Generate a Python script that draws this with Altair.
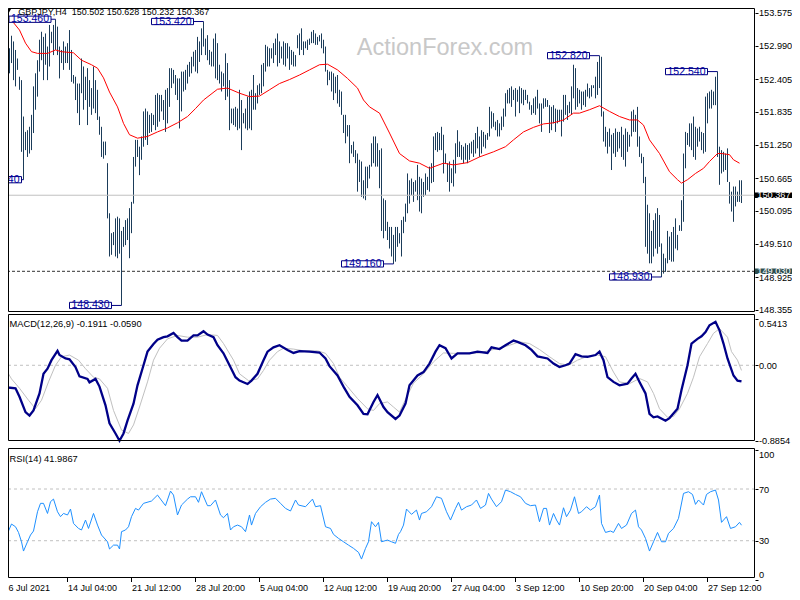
import json
import altair as alt
import pandas as pd

# ---------------- values ----------------
symbol_title = "GBPJPY,H4\u00a0 150.502 150.628 150.232 150.367"
macd_title = "MACD(12,26,9) -0.1911 -0.0590"
rsi_title = "RSI(14) 41.9867"
watermark_text = "ActionForex.com"

bar_high = [
    152.71, 152.72, 152.72, 152.95, 153.17, 153.07, 152.92, 152.77, 152.45, 152.39,
    151.75, 151.48, 151.51, 151.57, 151.78, 152.28, 152.51, 152.74, 153.10, 153.24,
    153.15, 153.21, 152.98, 153.36, 153.24, 153.36, 153.46, 153.33, 152.98, 152.92,
    153.07, 152.98, 153.04, 153.27, 152.92, 152.48, 152.45, 152.33, 152.33, 152.77,
    152.63, 152.45, 152.60, 152.39, 152.25, 152.63, 152.39, 152.22, 151.75, 151.57,
    151.31, 151.31, 150.93, 150.05, 149.70, 149.72, 149.96, 149.99, 149.96, 149.74,
    149.81, 149.93, 149.96, 150.14, 150.25, 151.04, 151.34, 151.34, 151.22, 151.40,
    151.84, 151.89, 151.84, 151.78, 151.81, 151.78, 152.13, 152.16, 152.13, 152.13,
    152.04, 152.22, 152.25, 152.60, 152.60, 152.57, 152.48, 152.42, 152.42, 152.54,
    152.54, 152.57, 152.66, 152.71, 152.80, 152.89, 152.92, 153.15, 153.07, 153.30,
    153.42, 153.12, 153.18, 152.92, 152.89, 153.12, 153.21, 153.04, 152.66, 152.54,
    152.51, 152.86, 152.69, 152.39, 151.89, 151.89, 151.92, 151.89, 152.22, 152.04,
    151.81, 151.89, 152.10, 152.19, 152.22, 152.48, 152.16, 152.30, 152.33, 152.66,
    152.69, 153.01, 152.98, 152.95, 152.95, 153.04, 153.12, 153.21, 153.07, 152.98,
    153.07, 153.04, 153.04, 152.98, 152.92, 152.89, 152.83, 153.18, 153.21, 153.30,
    153.07, 153.07, 153.10, 153.12, 153.24, 153.27, 153.21, 153.15, 153.18, 153.21,
    153.10, 152.98, 152.57, 152.54, 152.54, 152.51, 152.45, 152.48, 152.22, 152.19,
    151.78, 151.78, 151.60, 151.60, 151.25, 151.31, 151.16, 151.10, 150.99, 150.96,
    150.63, 150.87, 150.87, 150.90, 151.28, 151.40, 151.40, 151.28, 151.16, 151.19,
    150.31, 150.28, 149.90, 149.81, 149.81, 149.67, 149.81, 149.81, 149.70, 149.93,
    149.99, 150.22, 150.75, 150.63, 150.66, 150.60, 150.63, 150.90, 150.69, 150.66,
    150.60, 150.75, 150.69, 150.87, 150.93, 151.40, 151.46, 151.48, 151.46, 151.57,
    151.43, 151.10, 150.93, 150.96, 150.84, 150.99, 151.28, 151.51, 151.31, 151.25,
    151.22, 151.28, 151.25, 151.28, 151.31, 151.34, 151.46, 151.57, 151.40, 151.51,
    151.48, 151.43, 151.46, 151.92, 151.84, 151.81, 151.66, 151.69, 151.63, 151.75,
    151.89, 152.16, 152.22, 152.25, 152.28, 152.22, 152.25, 152.22, 152.28, 152.25,
    152.22, 152.22, 152.13, 152.01, 151.95, 152.07, 152.10, 152.22, 151.98, 151.98,
    152.07, 152.07, 152.04, 151.95, 151.92, 151.95, 151.89, 151.87, 151.87, 151.87,
    152.13, 152.13, 151.95, 152.01, 152.28, 152.66, 152.60, 152.25, 152.22, 152.19,
    152.19, 152.22, 152.33, 152.25, 152.30, 152.30, 152.45, 152.71, 152.82, 152.80,
    151.84, 151.57, 151.48, 151.54, 151.43, 151.46, 151.54, 151.48, 151.48, 151.57,
    151.43, 151.54, 151.48, 151.43, 151.84, 151.87, 151.78, 151.92, 151.40, 151.10,
    151.04, 150.69, 150.20, 150.05, 149.74, 149.93, 150.05, 150.14, 150.02, 149.52,
    149.34, 149.26, 149.74, 149.64, 149.72, 149.81, 149.96, 149.67, 149.84, 150.28,
    151.10, 151.48, 151.46, 151.63, 151.63, 151.75, 151.57, 151.54, 151.57, 151.48,
    151.46, 152.10, 152.16, 152.19, 152.22, 152.19, 152.45, 152.54, 151.22, 151.16,
    151.13, 151.10, 151.19, 150.60, 150.43, 150.52, 150.52, 150.43, 150.63, 150.63,
]
bar_low = [
    152.42, 152.41, 152.45, 152.51, 152.69, 152.39, 152.28, 152.57, 152.22, 151.13,
    150.64, 151.16, 151.04, 151.10, 151.16, 151.46, 151.87, 152.10, 152.54, 152.74,
    152.39, 152.66, 152.39, 152.63, 153.04, 152.83, 152.92, 152.83, 152.42, 152.69,
    152.57, 152.69, 152.69, 152.57, 152.36, 152.33, 152.04, 151.81, 151.60, 152.16,
    151.87, 152.04, 151.60, 151.92, 151.78, 151.89, 151.81, 151.69, 151.43, 151.04,
    151.01, 151.07, 149.96, 149.29, 149.32, 149.49, 149.29, 149.26, 149.34, 148.43,
    149.46, 149.49, 149.58, 149.26, 149.70, 150.22, 150.87, 151.04, 150.72, 150.99,
    151.22, 151.34, 151.25, 151.46, 151.48, 151.60, 151.51, 151.57, 151.66, 151.84,
    151.69, 151.48, 151.63, 151.92, 152.25, 152.33, 152.13, 152.04, 151.54, 151.84,
    152.19, 152.22, 152.33, 152.45, 152.51, 152.63, 152.54, 152.51, 152.71, 152.83,
    152.98, 152.83, 152.74, 152.66, 152.63, 152.63, 152.42, 152.39, 152.33, 152.19,
    152.28, 152.04, 152.10, 151.51, 151.63, 151.60, 151.57, 151.51, 151.54, 151.16,
    151.63, 151.54, 151.51, 151.54, 151.51, 151.87, 151.87, 151.98, 152.13, 152.16,
    152.28, 152.54, 152.63, 152.63, 152.77, 152.69, 152.83, 152.63, 152.69, 152.77,
    152.66, 152.63, 152.77, 152.57, 152.66, 152.63, 152.63, 152.95, 152.83, 152.92,
    152.83, 152.95, 152.92, 153.01, 153.04, 153.04, 153.01, 153.01, 153.07, 152.95,
    152.86, 152.54, 152.30, 152.39, 152.19, 152.04, 152.16, 151.98, 151.92, 151.78,
    151.46, 151.28, 151.40, 150.93, 151.10, 151.04, 150.93, 150.43, 150.60, 150.34,
    150.31, 150.28, 150.49, 150.66, 150.87, 150.93, 150.87, 150.87, 150.49, 149.74,
    149.61, 149.74, 149.58, 149.43, 149.29, 149.16, 149.20, 149.46, 149.52, 149.29,
    149.70, 149.90, 150.05, 150.22, 150.37, 150.25, 150.43, 150.28, 150.08, 150.05,
    150.34, 150.37, 150.46, 150.43, 150.58, 150.60, 151.16, 151.13, 151.16, 151.16,
    150.75, 150.93, 150.60, 150.43, 150.58, 150.52, 150.75, 151.04, 151.04, 150.99,
    150.93, 150.99, 150.93, 150.99, 151.10, 151.04, 151.10, 151.19, 151.04, 151.10,
    151.22, 151.19, 151.34, 151.40, 151.54, 151.57, 151.51, 151.40, 151.40, 151.51,
    151.57, 151.75, 151.98, 151.98, 151.92, 152.04, 151.75, 152.01, 151.81, 151.98,
    151.95, 152.04, 151.98, 151.87, 151.78, 151.81, 151.78, 151.89, 151.63, 151.48,
    151.89, 151.92, 151.92, 151.46, 151.51, 151.63, 151.48, 151.63, 151.66, 151.40,
    151.66, 151.78, 151.69, 151.81, 151.78, 152.07, 151.87, 151.92, 151.98, 151.87,
    151.95, 151.92, 152.10, 152.07, 152.10, 152.25, 152.07, 152.13, 152.25, 151.75,
    151.31, 151.22, 151.10, 151.22, 150.81, 151.10, 151.04, 151.13, 151.19, 151.04,
    150.99, 150.87, 151.13, 151.22, 151.40, 151.48, 151.48, 151.22, 151.04, 150.93,
    150.58, 149.46, 149.34, 149.17, 149.17, 149.29, 149.43, 149.34, 149.46, 148.93,
    148.99, 149.02, 149.17, 149.23, 149.20, 149.20, 149.43, 149.40, 149.74, 149.74,
    149.90, 150.84, 151.25, 151.22, 151.16, 151.04, 150.99, 151.22, 151.31, 151.16,
    151.10, 151.13, 151.63, 151.89, 151.89, 151.95, 151.95, 151.04, 150.55, 150.75,
    150.78, 150.81, 150.60, 150.22, 150.08, 149.90, 150.17, 150.25, 150.25, 150.23,
]

ma_bar = [2, 8, 11, 14, 17, 22, 26, 29, 35, 39, 44, 47, 50, 53, 57, 60, 63, 67, 72, 77,
          82, 87, 92, 96, 100, 107, 112, 118, 123, 128, 133, 138, 143, 148, 153, 158, 162,
          167, 172, 177, 180, 183, 188, 191, 193, 198, 203, 208, 213, 220, 225, 232, 238,
          245, 251, 255, 260, 265, 270, 275, 280, 285, 288, 293, 298, 303, 308, 313, 317,
          320, 323, 328, 333, 337, 339, 342, 346, 350, 353, 357, 359, 363, 365, 368]
ma_value = [153.53, 153.27, 153.04, 152.89, 152.86, 152.86, 152.92, 152.89, 152.87, 152.74,
            152.66, 152.60, 152.43, 152.18, 151.92, 151.63, 151.43, 151.37, 151.40, 151.48,
            151.55, 151.64, 151.75, 151.89, 152.04, 152.23, 152.25, 152.16, 152.10, 152.11,
            152.22, 152.33, 152.40, 152.48, 152.57, 152.66, 152.67, 152.57, 152.42, 152.25,
            152.04, 151.92, 151.81, 151.60, 151.46, 151.10, 150.97, 150.93, 150.84, 150.93,
            150.90, 150.94, 151.04, 151.13, 151.22, 151.34, 151.48, 151.56, 151.62, 151.64,
            151.69, 151.81, 151.81, 151.87, 151.94, 151.84, 151.75, 151.69, 151.69, 151.60,
            151.34, 151.10, 150.78, 150.64, 150.58, 150.64, 150.75, 150.84, 150.96, 151.10,
            151.10, 151.08, 150.99, 150.93]

macd_bar = [0, 2, 6, 8, 11, 13, 15, 18, 20, 22, 24, 27, 28, 31, 33, 36, 38, 42, 43, 46,
            48, 51, 53, 56, 58, 60, 62, 65, 67, 70, 72, 75, 77, 80, 82, 85, 87, 89, 92, 95,
            97, 100, 102, 105, 107, 110, 113, 116, 118, 122, 124, 127, 130, 132, 135, 138,
            142, 145, 148, 153, 158, 161, 163, 167, 170, 173, 177, 180, 182, 185, 187, 190,
            192, 196, 198, 201, 203, 207, 210, 213, 216, 218, 221, 224, 227, 230, 233, 237,
            242, 244, 248, 251, 255, 257, 261, 264, 267, 272, 275, 278, 281, 283, 286, 289,
            292, 296, 298, 300, 302, 305, 308, 312, 314, 316, 318, 321, 323, 325, 327, 331,
            333, 337, 339, 342, 344, 347, 349, 351, 353, 356, 358, 360, 362, 365, 367, 369]
macd_value = [-0.16, -0.26, -0.27, -0.37, -0.55, -0.59, -0.53, -0.33, -0.10, -0.04,
              0.06, 0.17, 0.12, 0.08, 0.07, -0.02, -0.13, -0.16, -0.20, -0.16,
              -0.25, -0.47, -0.68, -0.80, -0.885, -0.80, -0.65, -0.45, -0.235, 0.0,
              0.16, 0.25, 0.30, 0.33, 0.34, 0.38, 0.33, 0.29, 0.29, 0.35,
              0.35, 0.40, 0.36, 0.33, 0.235, 0.14, 0.0, -0.14, -0.18, -0.22,
              -0.18, -0.10, 0.06, 0.16, 0.21, 0.235, 0.18, 0.145, 0.165, 0.16,
              0.15, 0.08, -0.01, -0.12, -0.25, -0.37, -0.47, -0.57, -0.575, -0.43,
              -0.35, -0.49, -0.55, -0.63, -0.59, -0.45, -0.235, -0.12, -0.08, 0.02,
              0.16, 0.235, 0.20, 0.08, 0.14, 0.14, 0.14, 0.16, 0.145, 0.21,
              0.19, 0.235, 0.29, 0.275, 0.235, 0.18, 0.105, 0.08, 0.02, -0.02,
              0.0, 0.02, 0.13, 0.105, 0.10, 0.12, 0.16, 0.06, -0.14, -0.195,
              -0.235, -0.215, -0.155, -0.10, -0.195, -0.33, -0.57, -0.61, -0.60, -0.65,
              -0.62, -0.51, -0.29, 0.0, 0.255, 0.31, 0.34, 0.39, 0.47, 0.51,
              0.41, 0.255, 0.08, -0.12, -0.18, -0.19]

signal_bar = [0, 4, 8, 12.5, 16, 19, 22.5, 26, 29, 33, 37.5, 41, 45, 48, 52, 55, 59, 62.5,
              65, 68, 72, 75, 78, 82, 87, 92, 97, 102, 107, 110, 115, 118, 122.5, 127, 130,
              133, 137, 140, 145, 150, 157, 161, 165, 168, 172, 177, 182, 185, 188, 192, 195,
              198, 202, 205, 210, 215, 220, 225, 232, 238, 243, 248, 253, 258, 263, 268, 273,
              278, 282.5, 287, 292, 297, 301, 305, 308, 313, 318, 322, 325, 328, 332, 335,
              338, 342, 345, 348, 352, 355, 358, 362, 364, 367, 369]
signal_value = [0.0, -0.16, -0.27, -0.41, -0.51, -0.41, -0.195, 0.0, 0.10, 0.12,
                0.06, -0.04, -0.14, -0.16, -0.27, -0.53, -0.76, -0.80, -0.70, -0.49,
                -0.195, 0.06, 0.20, 0.31, 0.35, 0.33, 0.33, 0.36, 0.35, 0.255,
                0.06, -0.10, -0.18, -0.16, -0.06, 0.06, 0.16, 0.20, 0.19, 0.17,
                0.17, 0.14, 0.02, -0.14, -0.25, -0.39, -0.51, -0.53, -0.45, -0.43,
                -0.49, -0.55, -0.35, -0.21, -0.10, 0.04, 0.145, 0.14, 0.14, 0.145,
                0.175, 0.20, 0.235, 0.275, 0.255, 0.185, 0.10, 0.02, 0.0, 0.06,
                0.105, 0.12, 0.10, -0.08, -0.195, -0.215, -0.155, -0.195, -0.33, -0.51,
                -0.61, -0.60, -0.51, -0.33, -0.14, 0.10, 0.255, 0.375, 0.43, 0.33,
                0.16, 0.06, -0.06]

rsi_bar = [0, 1, 2.5, 4, 6, 7.5, 9, 10, 12, 13.5, 15, 17, 18.5, 20, 22, 23.5, 25, 27, 28.5, 30,
           32, 33.5, 35, 37.5, 39, 41, 42.5, 45, 47, 49, 52, 53, 55, 57, 58, 59, 61, 62.5, 64, 66,
           67.5, 70, 74, 77, 78.5, 81, 83.5, 85, 87, 89, 92, 93.5, 96, 97.5, 99, 102, 103.5, 106,
           108.5, 110, 112, 113.5, 115, 117, 119, 121, 123, 124, 126, 128.5, 131, 133.5, 136,
           138.5, 141, 143.5, 146, 147.5, 151, 154.5, 156, 158.5, 161, 163.5, 165, 167.5, 170,
           172.5, 175, 177.5, 179, 181, 182.5, 184, 186, 187.5, 189, 192, 194, 196, 197.5, 198.5,
           200, 201.5, 204, 206.5, 208, 209, 211.5, 214, 216.5, 219, 221.5, 223.5, 226, 227.5,
           229, 231.5, 234, 236.5, 238.5, 241, 242.5, 244, 246.5, 249, 251, 253.5, 256, 258.5,
           261, 263.5, 266, 268, 270, 271.5, 273, 275, 276.5, 278, 280, 281.5, 283.5, 285.5,
           287.5, 289, 291.5, 293.5, 296, 298, 299, 301, 303.5, 305, 307.5, 309, 311.5, 314,
           316, 317.5, 319, 321, 323, 325, 327, 329, 331, 332.5, 335, 337.5, 340, 342.5, 344.5,
           346, 347.5, 350, 351.5, 353.5, 356, 357.5, 359, 361.5, 363.5, 366, 368, 369]
rsi_value = [34.9, 31.8, 37.5, 42.9, 40.8, 36.4, 29.2, 22.0, 29.2, 34.4,
             37.5, 52.4, 58.9, 58.9, 51.1, 60.2, 62.2, 52.4, 48.6, 51.1,
             49.9, 54.5, 43.4, 39.5, 38.3, 46.0, 39.5, 51.1, 42.1, 34.4,
             29.2, 23.6, 26.6, 26.6, 23.6, 37.0, 38.3, 40.8, 48.6, 55.0,
             53.7, 58.9, 60.7, 65.3, 62.2, 57.1, 68.4, 65.3, 49.9, 57.6,
             62.2, 64.0, 64.0, 59.7, 67.9, 57.1, 57.1, 61.5, 49.9, 47.8,
             51.1, 38.3, 40.8, 42.1, 40.8, 37.0, 49.9, 42.1, 51.1, 56.3,
             59.7, 62.2, 62.8, 58.9, 55.0, 53.0, 61.5, 57.6, 56.3, 62.2,
             56.3, 57.1, 40.8, 39.5, 34.9, 31.8, 29.2, 26.6, 24.1, 21.0,
             15.8, 24.1, 29.2, 44.7, 40.8, 44.2, 29.2, 30.5, 29.2, 28.0,
             34.9, 37.0, 42.1, 54.5, 50.4, 53.7, 46.0, 51.1, 52.4, 56.3,
             64.0, 62.8, 52.4, 46.0, 55.0, 59.7, 53.7, 56.3, 57.6, 61.5,
             55.0, 57.6, 66.6, 62.2, 56.3, 60.2, 69.2, 67.9, 65.8, 64.0,
             58.9, 57.1, 57.6, 44.7, 55.0, 55.0, 42.1, 51.1, 46.0, 42.1,
             55.5, 48.6, 53.7, 64.0, 51.1, 52.4, 56.3, 53.7, 56.3, 65.3,
             43.4, 36.4, 37.5, 36.4, 43.4, 39.5, 42.1, 51.1, 53.7, 40.8,
             38.3, 31.8, 22.0, 29.2, 36.4, 29.2, 29.2, 35.7, 39.5, 47.3,
             66.6, 67.9, 65.8, 58.1, 61.5, 57.6, 65.8, 67.9, 69.2, 61.5,
             44.2, 48.6, 39.5, 40.8, 44.2, 42.0]

tick_bars = [0, 32, 64, 96, 128, 160, 192, 224, 256, 288, 320, 352]
tick_labels = ["6 Jul 2021", "14 Jul 04:00", "21 Jul 12:00", "28 Jul 20:00", "5 Aug 04:00",
               "12 Aug 12:00", "19 Aug 20:00", "27 Aug 04:00", "3 Sep 12:00", "10 Sep 20:00",
               "20 Sep 04:00", "27 Sep 12:00"]
price_ticks = [153.575, 152.990, 152.405, 151.835, 151.250, 150.665, 150.095, 149.510, 148.925, 148.355]
macd_ticks = [0.5413, 0.0, -0.8854]
macd_tick_labels = ["0.5413", "0.00", "-0.8854"]
rsi_ticks = [100, 70, 30, 0]
rsi_levels = [70, 30]

note_bar = [10, 26, 59, 100, 195, 298, 329, 357]
note_price = [150.640, 153.460, 148.430, 153.420, 149.160, 152.820, 148.930, 152.540]
last_close = 150.367
level_price = 149.030

# ---------------- layout / style ----------------
FONT = "Liberation Sans"
BAR = "#1b3c5a"
W, H = 747, 570

x_scale = alt.Scale(domain=[2.25, 375.75], nice=False, zero=False)
p_scale = alt.Scale(domain=[148.3148, 153.6576], range=[304, 0], nice=False, zero=False)
m_scale = alt.Scale(domain=[-0.8885, 0.590], range=[433, 307], nice=False, zero=False)
r_scale = alt.Scale(domain=[0, 100.95], range=[571.5, 441], nice=False, zero=False)

XN = alt.X("i:Q", scale=x_scale, axis=None)


def right_axis(values, **kw):
    return alt.Axis(orient="right", values=values, title="", domain=False, grid=False,
                    tickSize=3, tickColor="black", labelPadding=0.5, labelFont=FONT,
                    labelFontSize=9.2, labelColor="black", labelOverlap=False,
                    labelFlush=False, **kw)


one = pd.DataFrame({"k": [0]})

# --- main price panel ---
bars_df = pd.DataFrame({"i": list(range(len(bar_high))), "high": bar_high, "low": bar_low})
ma_df = pd.DataFrame({"i": ma_bar, "v": ma_value})
notes = pd.DataFrame({"i": note_bar, "p": note_price})
notes["cx"] = notes["i"] - 15.5
left_edge = notes["cx"] - 10.5
# a box that only just crosses the panel edge is kept whole; one far past it shows its tail
notes.loc[(left_edge > -3) & (left_edge < 2.75), "cx"] = 13.25
notes.loc[left_edge <= -3, "cx"] = notes["cx"] + 4
notes["x1"] = notes["cx"] + 10.5

watermark = alt.Chart(pd.DataFrame({"t": [watermark_text]})).mark_text(
    font="Liberation Sans", fontSize=23.5, color="#c8c8c8", align="center", baseline="alphabetic"
).encode(x=alt.value(437), y=alt.value(47), text="t:N")

bars = alt.Chart(bars_df).mark_rule(color=BAR, strokeWidth=1, clip=True).encode(
    x=XN,
    y=alt.Y("low:Q", scale=p_scale, axis=right_axis(price_ticks, format=".3f")),
    y2="high:Q",
)

ma = alt.Chart(ma_df).mark_line(color="#ff0000", strokeWidth=1, clip=True).encode(
    x=XN, y=alt.Y("v:Q", scale=p_scale, axis=None)
)

last_df = pd.DataFrame({"p": [last_close]})
level_df = pd.DataFrame({"p": [level_price]})
PY = alt.Y("p:Q", scale=p_scale, axis=None)

last_line = alt.Chart(last_df).mark_rule(color="#c0c0c0", strokeWidth=1).encode(y=PY)
level_line = alt.Chart(level_df).mark_rule(color="#333333", strokeWidth=1, strokeDash=[3, 2]).encode(y=PY)

connectors = alt.Chart(notes).mark_rule(color="#000080", strokeWidth=1, clip=True).encode(
    x=alt.X("x1:Q", scale=x_scale, axis=None), x2="i:Q", y=PY
)
note_boxes = alt.Chart(notes).mark_point(
    shape="M-1,-0.149L1,-0.149L1,0.149L-1,0.149Z", size=1764, filled=True, fill="white",
    stroke="#000080", strokeWidth=1, opacity=1, clip=True
).encode(x=alt.X("cx:Q", scale=x_scale, axis=None), y=PY)
note_text = alt.Chart(notes).mark_text(
    font="Liberation Sans", fontSize=10.5, color="#0000a0", align="center", baseline="middle", clip=True
).encode(x=alt.X("cx:Q", scale=x_scale, axis=None), y=PY, text=alt.Text("p:Q", format=".3f"))

AXBOX = "M-1,-0.1486L1,-0.1486L1,0.1486L-1,0.1486Z"
last_box = alt.Chart(last_df).mark_point(shape=AXBOX, size=1369, filled=True, color="black",
                                         opacity=1).encode(x=alt.value(W + 18.5), y=PY)
last_txt = alt.Chart(last_df).mark_text(font=FONT, fontSize=9.2, color="white", align="left",
                                        baseline="middle").encode(
    x=alt.value(W + 2.3), y=PY, text=alt.Text("p:Q", format=".3f"))
level_box = alt.Chart(level_df).mark_point(shape=AXBOX, size=1369, filled=True, color="#2f4f4f",
                                           opacity=1).encode(x=alt.value(W + 18.5), y=PY)
level_txt = alt.Chart(level_df).mark_text(font=FONT, fontSize=9.2, color="white", align="left",
                                          baseline="middle").encode(
    x=alt.value(W + 2.3), y=PY, text=alt.Text("p:Q", format=".3f"))

title_main = alt.Chart(pd.DataFrame({"t": [symbol_title]})).mark_text(
    font=FONT, fontSize=9, color="black", align="left", baseline="middle"
).encode(x=alt.value(10.3), y=alt.value(3.6), text="t:N")
triangle = alt.Chart(one).mark_point(shape="triangle-down", filled=True, color="black", size=22,
                                     opacity=1, clip=True).encode(x=alt.value(1), y=alt.value(2.5))

# --- MACD panel ---
macd_df = pd.DataFrame({"i": macd_bar, "v": macd_value})
signal_df = pd.DataFrame({"i": signal_bar, "v": signal_value})
macd_labels_expr = "{}[indexof({}, datum.value)]".format(json.dumps(macd_tick_labels), json.dumps(macd_ticks))

macd_zero = alt.Chart(pd.DataFrame({"v": [0.0]})).mark_rule(
    color="#c0c0c0", strokeWidth=1, strokeDash=[3, 3]).encode(y=alt.Y("v:Q", scale=m_scale, axis=None))
signal_line = alt.Chart(signal_df).mark_line(color="#c0c0c0", strokeWidth=1).encode(
    x=XN, y=alt.Y("v:Q", scale=m_scale, axis=None))
macd_line = alt.Chart(macd_df).mark_line(color="#000088", strokeWidth=2.3).encode(
    x=XN,
    y=alt.Y("v:Q", scale=m_scale,
            axis=right_axis(macd_ticks, labelExpr=macd_labels_expr,
                            labelBaseline={"condition": {"test": "datum.value > 0.5", "value": "top"},
                                           "value": "middle"})),
)
title_macd = alt.Chart(pd.DataFrame({"t": [macd_title]})).mark_text(
    font=FONT, fontSize=9.3, color="black", align="left", baseline="middle"
).encode(x=alt.value(1.5), y=alt.value(316), text="t:N")

# --- RSI panel ---
rsi_df = pd.DataFrame({"i": rsi_bar, "v": rsi_value})
rsi_lv = alt.Chart(pd.DataFrame({"v": rsi_levels})).mark_rule(
    color="#c0c0c0", strokeWidth=1, strokeDash=[3, 3]).encode(y=alt.Y("v:Q", scale=r_scale, axis=None))
rsi_line = alt.Chart(rsi_df).mark_line(color="#1e90ff", strokeWidth=1).encode(
    x=XN,
    y=alt.Y("v:Q", scale=r_scale,
            axis=right_axis(rsi_ticks, format="d",
                            labelBaseline={"condition": [
                                {"test": "datum.value == 100", "value": "top"},
                                {"test": "datum.value == 0", "value": "bottom"}],
                                "value": "middle"})),
)
title_rsi = alt.Chart(pd.DataFrame({"t": [rsi_title]})).mark_text(
    font=FONT, fontSize=9.3, color="black", align="left", baseline="middle"
).encode(x=alt.value(1.5), y=alt.value(451), text="t:N")

# --- time axis (drawn as marks) ---
dates = pd.DataFrame({"i": tick_bars[1:], "t": tick_labels[1:]})
date_ticks = alt.Chart(dates).mark_rule(color="black", strokeWidth=1).encode(
    x=XN, y=alt.value(570), y2=alt.value(574))
date_text = alt.Chart(dates).mark_text(
    font=FONT, fontSize=9, color="black", align="left", baseline="top", dx=0.5
).encode(x=XN, y=alt.value(575.5), text="t:N")
first_date = alt.Chart(pd.DataFrame({"t": [tick_labels[0]]})).mark_text(
    font=FONT, fontSize=9, color="black", align="left", baseline="top"
).encode(x=alt.value(0.5), y=alt.value(575.5), text="t:N")


def frame(y0, y1):
    return alt.Chart(one).mark_rect(fillOpacity=0, stroke="black", strokeWidth=1).encode(
        x=alt.value(0.5), x2=alt.value(W - 0.5), y=alt.value(y0), y2=alt.value(y1))


chart = alt.layer(
    watermark, bars, ma, last_line, level_line, connectors, note_boxes, note_text,
    last_box, last_txt, level_box, level_txt, title_main, triangle,
    macd_zero, signal_line, macd_line, title_macd,
    rsi_lv, rsi_line, title_rsi, date_ticks, date_text, first_date,
    frame(0.5, 303.5), frame(306.5, 432.5), frame(440.5, 569.5),
).resolve_scale(y="independent").properties(
    width=W, height=H,
    padding={"left": 0, "top": 0, "right": 37, "bottom": 14},
    autosize=alt.AutoSizeParams(type="none"),
    background="white",
).configure_view(stroke=None)

chart.save("out.html", embed_options={"renderer": "svg", "actions": False})
